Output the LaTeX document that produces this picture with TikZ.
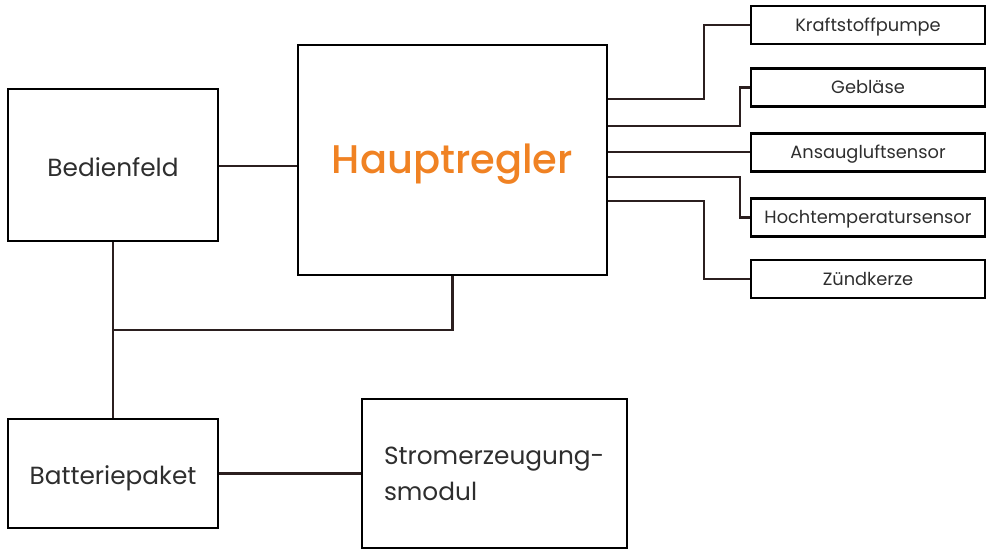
\documentclass[tikz,border=0pt]{standalone}
\usepackage{fontspec}
\setmainfont{Poppins}
\newfontfamily\poppinsmed{Poppins Medium}
\definecolor{wirecol}{HTML}{2B1F1F}
\definecolor{textcol}{HTML}{2E2E2E}
\definecolor{mainorange}{HTML}{F08223}
\tikzset{
  block/.style={draw=black, line width=2.5pt, text=textcol, inner sep=0pt, text depth=0pt},
  part/.style={block, minimum width=234pt, minimum height=38pt, text height=12pt, font=\fontsize{17.8}{20}\selectfont},
  wire/.style={draw=wirecol, line width=2.2pt}
}
\begin{document}
\begin{tikzpicture}[x=1pt, y=-1pt]
        \useasboundingbox (0,0) rectangle (989,550);

        % main boxes
        \node[block, minimum width=210pt, minimum height=152pt, text height=22pt, font=\fontsize{24.8}{28}\selectfont] (panel) at (113,165) {Bedienfeld};
        \node[block, minimum width=309pt, minimum height=230pt, text height=27pt, text=mainorange, font=\poppinsmed\fontsize{40}{46}\selectfont] (haupt) at (452.5,160) {Hauptregler};
        \node[block, minimum width=210pt, minimum height=109pt, text height=22pt, font=\fontsize{24.8}{28}\selectfont] (akku) at (113,473.5) {Batteriepaket};
        \node[draw=black, line width=2.5pt, text=textcol, minimum height=149pt, inner xsep=22pt, text width=221pt, align=left, font=\fontsize{24.8}{36}\selectfont] (strom) at (494.5,473.5) {Stromerzeugung-\\smodul};

        % parts
        \node[part] (pumpe) at (868,25) {Kraftstoffpumpe};
        \node[part] (geblaese) at (868,87.5) {Gebläse};
        \node[part] (luft) at (868,152.5) {Ansaugluftsensor};
        \node[part] (temp) at (868,217.5) {Hochtemperatursensor};
        \node[part] (kerze) at (868,279) {Zündkerze};

        % outputs of Hauptregler
        \coordinate (h1) at ([yshift=-55pt]haupt.north east);
        \coordinate (h2) at ([yshift=-82pt]haupt.north east);
        \coordinate (h3) at ([yshift=-108pt]haupt.north east);
        \coordinate (h4) at ([yshift=-133pt]haupt.north east);
        \coordinate (h5) at ([yshift=-157pt]haupt.north east);

        \draw[wire] (h1) -| ([xshift=-46pt]pumpe.west) -- (pumpe.west);
        \draw[wire] (h2) -| ([xshift=-10pt]geblaese.west) -- (geblaese.west);
        \draw[wire] (h3) -- (h3 -| luft.west);
        \draw[wire] (h4) -| ([xshift=-10pt]temp.west) -- (temp.west);
        \draw[wire] (h5) -| ([xshift=-46pt]kerze.west) -- (kerze.west);

        % left side
        \draw[wire] (panel.east |- 0,166) -- (haupt.west |- 0,166);
        \draw[wire] (panel.south) -- (akku.north);
        \draw[wire] (haupt.south) |- (panel.south |- 0,330);
        \draw[wire] (akku.east) -- (akku.east -| strom.west);
\end{tikzpicture}
\end{document}
